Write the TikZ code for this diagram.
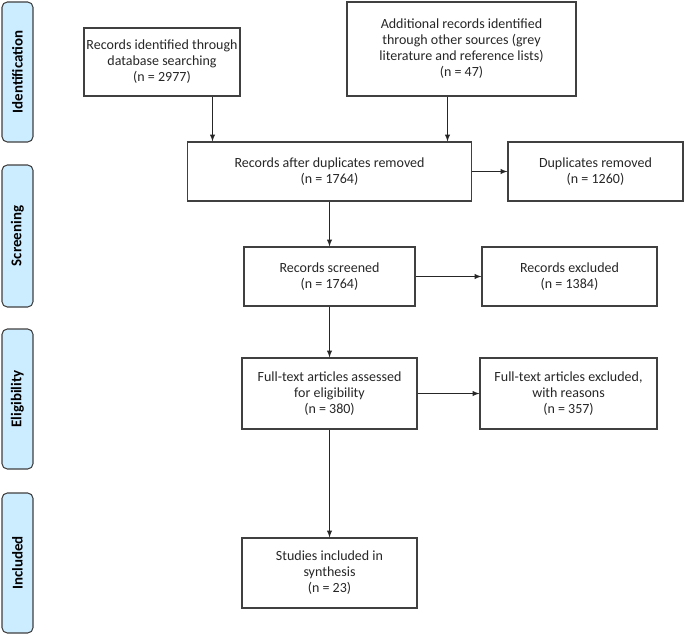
\documentclass[tikz,border=0pt]{standalone}
\usepackage{fontspec}
\setmainfont{Carlito}
\usetikzlibrary{arrows}
\definecolor{phase}{HTML}{CCECFF}
\definecolor{edge}{HTML}{404040}
\tikzset{
  box/.style={draw=edge, line width=0.8pt, rectangle, align=center, text=black!85,
    font=\fontsize{10.5}{12}\selectfont, inner sep=1pt},
  stage/.style={draw=edge, line width=0.8pt, fill=phase, rounded corners=4pt,
    minimum height=31*0.75pt, rotate=90, font=\fontsize{11.2}{12}\selectfont\bfseries},
  arr/.style={draw=black!85, line width=0.8pt, ->, >=latex}
}
\begin{document}
\begin{tikzpicture}[x=0.75pt, y=-0.75pt]
\useasboundingbox (0,0) rectangle (685,635);

\node[stage, minimum width=140*0.75pt] (ident) at (17.5,72) {Identification};
\node[stage, minimum width=142*0.75pt] (screen) at (17.5,236) {Screening};
\node[stage, minimum width=140*0.75pt] (elig) at (17.5,399) {Eligibility};
\node[stage, minimum width=140*0.75pt] (incl) at (17.5,563) {Included};

\node[box, minimum width=156*0.75pt, minimum height=68*0.75pt] (db) at (162,62) {Records identified through\\database searching\\(n = 2977)};
\node[box, minimum width=229*0.75pt, minimum height=94*0.75pt] (other) at (461.5,49) {Additional records identified\\through other sources (grey\\literature and reference lists)\\(n = 47)};

\node[box, minimum width=284*0.75pt, minimum height=59*0.75pt] (dedup) at (329.5,171.5) {Records after duplicates removed\\(n = 1764)};
\node[box, minimum width=175*0.75pt, minimum height=59*0.75pt] (dupl) at (595.5,171.5) {Duplicates removed\\(n = 1260)};

\node[box, minimum width=171*0.75pt, minimum height=59*0.75pt] (screened) at (329.5,276.5) {Records screened\\(n = 1764)};
\node[box, minimum width=175*0.75pt, minimum height=59*0.75pt] (excl) at (569.5,276.5) {Records excluded\\(n = 1384)};

\node[box, minimum width=175*0.75pt, minimum height=71*0.75pt] (full) at (329.5,393.5) {Full-text articles assessed\\for eligibility\\(n = 380)};
\node[box, minimum width=177*0.75pt, minimum height=71*0.75pt] (fullexcl) at (568.5,393.5) {Full-text articles excluded,\\with reasons\\(n = 357)};

\node[box, minimum width=175*0.75pt, minimum height=70*0.75pt] (studies) at (329.5,573) {Studies included in\\synthesis\\(n = 23)};

\path[arr] (db.south -| 212.5,0) -- (dedup.north -| 212.5,0);
\path[arr] (other.south -| 447.5,0) -- (dedup.north -| 447.5,0);
\path[arr] (dedup.east) -- (dupl.west);
\path[arr] (dedup.south) -- (screened.north);
\path[arr] (screened.east) -- (excl.west);
\path[arr] (screened.south) -- (full.north);
\path[arr] (full.east) -- (fullexcl.west);
\path[arr] (full.south) -- (studies.north);

\end{tikzpicture}
\end{document}
